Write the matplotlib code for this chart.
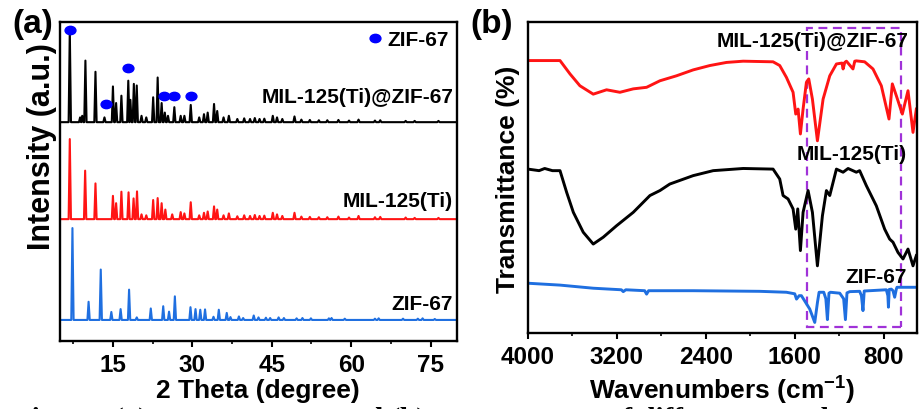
import matplotlib
matplotlib.use("Agg")
import matplotlib.pyplot as plt
from matplotlib.markers import MarkerStyle
from matplotlib.patches import Rectangle
from matplotlib.transforms import Affine2D

plt.rcParams["font.family"] = ["Liberation Sans", "DejaVu Sans"]
plt.rcParams["font.weight"] = "bold"
plt.rcParams["mathtext.fontset"] = "custom"
plt.rcParams["mathtext.rm"] = "Liberation Sans:bold"
plt.rcParams["mathtext.it"] = "Liberation Sans:bold"

# ---- (a) XRD: peak positions (2 theta) and heights above each baseline ----
ZIF_BASE = 6.6
ZIF_POS = [7.35, 10.4, 12.7, 14.7, 16.45, 18.05, 19.5, 22.15, 24.5, 25.6,
           26.7, 29.65, 30.6, 31.5, 32.4, 34.0, 35.0, 36.5, 37.2, 38.8,
           39.6, 41.6, 42.5, 43.9, 44.7, 46.3, 47.3, 49.7, 50.8, 52.4,
           55.8, 56.3, 58.8, 64.5, 65.2, 69.8, 72.6, 73.5, 75.8]
ZIF_H = [28.8, 5.7, 15.8, 2.5, 3.4, 9.5, 0.8, 3.6, 4.3, 2.6,
         7.4, 4.0, 3.4, 3.2, 3.3, 1.0, 3.2, 2.2, 0.9, 1.1,
         0.6, 1.4, 0.8, 0.7, 0.6, 0.8, 0.6, 0.5, 0.6, 0.5,
         0.5, 0.6, 0.4, 0.4, 0.5, 0.4, 0.4, 0.5, 0.3]

MIL_BASE = 38.2
MIL_POS = [6.85, 9.75, 11.7, 15.0, 15.6, 16.6, 17.95, 18.9, 19.55, 20.4,
           21.3, 22.6, 23.45, 24.2, 24.9, 26.2, 27.8, 28.5, 29.7, 31.3,
           32.2, 32.9, 34.1, 34.7, 35.9, 36.9, 38.5, 39.8, 40.9, 41.8,
           42.7, 43.6, 45.2, 46.0, 47.0, 49.3, 50.6, 52.2, 53.9, 55.5,
           57.6, 59.6, 61.4, 64.5, 65.5, 70.3, 72.0, 76.5]
MIL_H = [25.1, 15.2, 11.2, 7.3, 5.0, 8.6, 8.4, 6.5, 8.7, 1.5,
         1.2, 6.0, 6.6, 5.0, 3.0, 1.5, 2.2, 1.8, 5.3, 1.2,
         2.0, 2.4, 4.0, 3.0, 1.2, 1.8, 0.9, 1.2, 1.0, 1.3,
         1.0, 1.1, 2.0, 1.5, 1.0, 2.0, 0.8, 0.7, 0.6, 0.6,
         0.8, 0.5, 1.0, 0.6, 0.7, 0.5, 0.4, 0.4]

MIX_BASE = 68.6
MIX_POS = [6.85, 8.8, 9.2, 9.8, 11.7, 13.4, 15.0, 15.6, 16.6, 17.9,
           18.3, 18.95, 19.5, 20.4, 21.3, 22.6, 23.45, 24.2, 24.8, 25.4,
           26.6, 27.8, 28.5, 29.7, 31.3, 32.2, 32.9, 34.1, 34.7, 35.9,
           36.9, 38.5, 39.8, 40.9, 41.8, 42.7, 43.6, 45.2, 46.0, 47.0,
           49.3, 50.6, 52.2, 53.9, 55.5, 57.6, 59.6, 61.4, 64.5, 65.5,
           70.3, 72.0, 76.5]
MIX_H = [29.0, 1.5, 2.0, 19.3, 15.8, 1.5, 11.2, 6.0, 8.3, 13.0,
         7.0, 12.0, 11.5, 2.0, 1.5, 7.8, 14.0, 6.0, 3.0, 2.0,
         4.7, 2.0, 2.0, 5.4, 1.5, 2.5, 3.0, 5.7, 3.5, 1.5,
         2.0, 1.0, 1.2, 1.0, 1.3, 1.0, 1.1, 2.0, 1.5, 1.0,
         1.8, 0.8, 0.7, 0.6, 0.6, 0.7, 0.5, 0.8, 0.5, 0.6,
         0.4, 0.4, 0.4]

# ZIF-67 reflections marked on the composite pattern
DOT_X = [6.9, 13.6, 17.9, 24.6, 26.5, 29.8]
DOT_Y = [97.4, 74.2, 85.5, 76.9, 76.9, 76.7]

# ---- (b) FTIR: wavenumber (cm-1) and offset transmittance ----
RED_WN = [4000, 3850, 3712, 3622, 3533, 3413, 3293, 3173, 3053, 2933,
          2813, 2664, 2514, 2364, 2214, 2064, 1795, 1735, 1675, 1615,
          1591, 1570, 1549, 1525, 1495, 1474, 1441, 1396, 1345, 1285,
          1225, 1175, 1165, 1150, 1135, 1076, 1060, 1046, 971, 896,
          821, 752, 722, 686, 632, 581, 536, 506]
RED_T = [87.6, 87.6, 87.6, 83.3, 79.5, 76.8, 78.2, 77.4, 78.5, 79.0,
         81.1, 82.7, 84.6, 86.0, 87.0, 87.4, 87.2, 86.0, 82.2, 77.4,
         70.4, 72.0, 64.0, 72.0, 80.6, 81.7, 75.2, 61.8, 75.2, 82.7,
         86.5, 86.8, 84.9, 87.0, 87.4, 84.9, 87.4, 87.5, 87.2, 84.9,
         79.5, 68.8, 80.1, 76.3, 70.4, 77.9, 64.5, 72.0]

BLACK_WN = [4000, 3900, 3850, 3780, 3712, 3652, 3592, 3503, 3413, 3323,
            3203, 3053, 2903, 2813, 2724, 2514, 2334, 2064, 1795, 1735,
            1705, 1660, 1615, 1591, 1573, 1549, 1525, 1480, 1441, 1396,
            1351, 1315, 1285, 1225, 1165, 1120, 1046, 1016, 956, 866,
            791, 746, 716, 671, 626, 581, 536, 506]
BLACK_T = [52.7, 52.2, 52.9, 52.2, 52.2, 45.2, 38.8, 32.4, 28.6, 30.8,
           34.5, 38.8, 44.2, 45.8, 47.9, 50.6, 52.2, 52.9, 52.7, 49.5,
           44.2, 43.1, 39.9, 33.4, 39.9, 26.5, 38.8, 45.8, 38.8, 21.6,
           37.7, 45.8, 44.2, 52.7, 51.7, 52.9, 51.7, 52.2, 47.4, 40.9,
           33.4, 30.2, 29.2, 25.9, 23.8, 27.0, 21.6, 24.9]

BLUE_WN = [4000, 3712, 3413, 3160, 3143, 3120, 2950, 2933, 2915, 2514,
           1915, 1675, 1600, 1584, 1560, 1540, 1465, 1420, 1395, 1381,
           1339, 1320, 1306, 1292, 1279, 1195, 1160, 1144, 1130, 1105,
           1016, 1000, 986, 975, 776, 762, 757, 750, 731, 716,
           701, 686, 680, 506]
BLUE_T = [16.0, 15.4, 14.4, 13.9, 13.3, 13.9, 13.6, 12.5, 13.6, 13.6,
          13.4, 13.1, 12.6, 10.9, 12.0, 12.0, 7.7, 3.4, 10.0, 13.1,
          13.1, 11.0, 4.3, 12.8, 13.1, 12.8, 11.0, 4.3, 12.9, 13.3,
          13.4, 12.0, 7.2, 13.5, 13.9, 12.0, 8.3, 14.0, 14.1, 13.6,
          11.5, 14.1, 14.7, 14.7]

# fingerprint region highlighted by the dashed box
BOX_WN = [647, 1490]
BOX_T = [1.9, 98.1]

BLUE = "#1f6fe0"
RED = "#ff1414"
PURPLE = "#a032d8"


def stick_trace(positions, heights, base, xmin, xmax, half=0.22):
    # narrow triangular reflections on a flat baseline
    xs, ys = [xmin], [base]
    for p, h in zip(positions, heights):
        xs += [p - half, p, p + half]
        ys += [base, base + h, base]
    xs.append(xmax)
    ys.append(base)
    return xs, ys


def style_axes(ax):
    for side in ax.spines.values():
        side.set_linewidth(1.7)
    ax.tick_params(axis="x", which="major", direction="out", length=4,
                   width=1.5, labelsize=17.5, pad=5)
    ax.tick_params(axis="x", which="minor", direction="out", length=2.5,
                   width=1.2)
    ax.set_yticks([])


fig = plt.figure(figsize=(9.2, 4.1), dpi=100)

# ---------------- (a) ----------------
ax1 = fig.add_axes([60 / 920, 68 / 410, 397 / 920, 319 / 410])
ax1.set_xlim(5, 80)
ax1.set_ylim(0, 100)
for pos, hts, base, col in [(ZIF_POS, ZIF_H, ZIF_BASE, BLUE),
                            (MIL_POS, MIL_H, MIL_BASE, RED),
                            (MIX_POS, MIX_H, MIX_BASE, "black")]:
    xs, ys = stick_trace(pos, hts, base, 5, 80)
    ax1.plot(xs, ys, color=col, lw=1.5)

dot = MarkerStyle("o", transform=Affine2D().scale(1.3, 1.0))
ax1.plot(DOT_X, DOT_Y, ls="none", marker=dot, ms=6, color="#0000ff",
         label="ZIF-67")
ax1.legend(loc="upper right", frameon=False, fontsize=15, handlelength=0.6,
           handletextpad=0.3, borderaxespad=0.2, borderpad=0.2)
ax1.set_xticks([15, 30, 45, 60, 75])
ax1.set_xticks([7.5, 22.5, 37.5, 52.5, 67.5], minor=True)
style_axes(ax1)
ax1.text(0.99, 0.766, "MIL-125(Ti)@ZIF-67", transform=ax1.transAxes,
         ha="right", va="center", fontsize=15)
ax1.text(0.99, 0.44, "MIL-125(Ti)", transform=ax1.transAxes,
         ha="right", va="center", fontsize=15)
ax1.text(0.99, 0.119, "ZIF-67", transform=ax1.transAxes,
         ha="right", va="center", fontsize=15)

# ---------------- (b) ----------------
ax2 = fig.add_axes([528 / 920, 76 / 410, 389 / 920, 311 / 410])
ax2.set_xlim(4000, 500)
ax2.set_ylim(0, 100)
ax2.plot(RED_WN, RED_T, color=RED, lw=2.1)
ax2.plot(BLACK_WN, BLACK_T, color="black", lw=2.1)
ax2.plot(BLUE_WN, BLUE_T, color=BLUE, lw=2.1)
ax2.add_patch(Rectangle((BOX_WN[0], BOX_T[0]), BOX_WN[1] - BOX_WN[0],
                        BOX_T[1] - BOX_T[0], fill=False, ec=PURPLE, lw=1.6,
                        ls=(0, (4, 2.5))))
ax2.set_xticks([4000, 3200, 2400, 1600, 800])
ax2.set_xticks([3600, 2800, 2000, 1200], minor=True)
style_axes(ax2)
ax2.text(0.977, 0.939, "MIL-125(Ti)@ZIF-67", transform=ax2.transAxes,
         ha="right", va="center", fontsize=15)
ax2.text(0.974, 0.576, "MIL-125(Ti)", transform=ax2.transAxes,
         ha="right", va="center", fontsize=15)
ax2.text(0.974, 0.183, "ZIF-67", transform=ax2.transAxes,
         ha="right", va="center", fontsize=15)

# axis titles and panel letters
fig.text(258 / 920, 1 - 391 / 410, "2 Theta (degree)", ha="center",
         va="center", fontsize=19)
fig.text(722 / 920, 1 - 391 / 410, r"Wavenumbers (cm$^{-1}$)", ha="center",
         va="center", fontsize=19)
fig.text(42 / 920, 1 - 147 / 410, "Intensity (a.u.)", rotation=90,
         ha="center", va="center", fontsize=22)
fig.text(508 / 920, 1 - 179 / 410, "Transmittance (%)", rotation=90,
         ha="center", va="center", fontsize=19)
fig.text(12 / 920, 1 - 25 / 410, "(a)", ha="left", va="center", fontsize=24)
fig.text(470 / 920, 1 - 25 / 410, "(b)", ha="left", va="center", fontsize=24)

# figure caption, cut by the lower edge as in the source
fig.text(14 / 920, 1 - 428 / 410,
         "Fig. S3. (a) XRD patterns and (b) FTIR spectra of different samples",
         ha="left", va="baseline", fontsize=21, family="Liberation Serif")

fig.savefig("out.png", dpi=100)
